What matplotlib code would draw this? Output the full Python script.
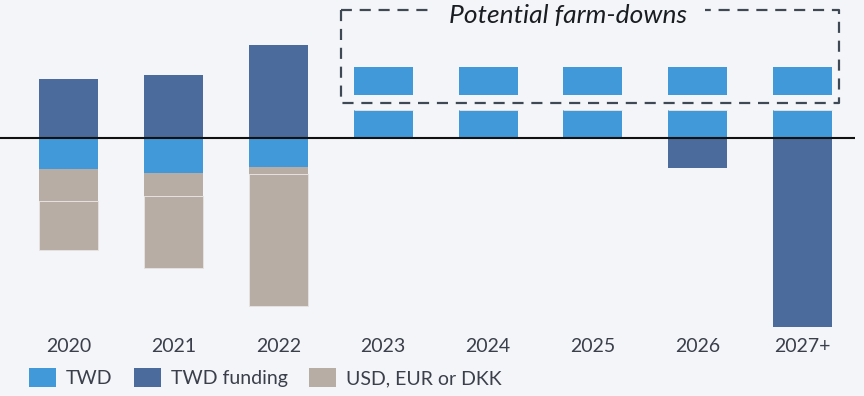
import matplotlib
matplotlib.use("Agg")
import matplotlib.pyplot as plt
import numpy as np

# Cash-flow profile by year (bn), stacked around zero
years = ["2020", "2021", "2022", "2023", "2024", "2025", "2026", "2027+"]
twd = [-3.1, -3.5, -2.9, 2.8, 2.8, 2.8, 2.8, 2.8]
twd_funding = [5.9, 6.3, 9.3, 0.0, 0.0, 0.0, -3.0, -18.9]
fx_part1 = [-3.2, -2.3, -0.7, 0.0, 0.0, 0.0, 0.0, 0.0]
fx_part2 = [-4.9, -7.2, -13.2, 0.0, 0.0, 0.0, 0.0, 0.0]
farm_downs = [0.0, 0.0, 0.0, 2.85, 2.85, 2.85, 2.85, 2.85]

C_TWD = "#4299da"
C_FUND = "#4a6b9b"
C_FX = "#b7ada5"
BG = "#f4f5f8"
TXT = "#3a3f4b"

plt.rcParams["font.family"] = ["Lato", "DejaVu Sans"]

fig = plt.figure(figsize=(8.64, 3.96), dpi=100, facecolor=BG)
ax = fig.add_axes([0.0, 1 - 330 / 396, 855 / 864, 330 / 396])
ax.set_facecolor(BG)

x = np.arange(len(years))
width = 0.5625

# Separate positive / negative accumulators so each series stacks away from zero
pos = np.zeros(len(years))
neg = np.zeros(len(years))
series = [
    (twd, C_TWD, "TWD", "none", 0),
    (twd_funding, C_FUND, "TWD funding", "none", 0),
    (fx_part1, C_FX, "USD, EUR or DKK", "none", 0),
    (fx_part2, C_FX, None, "#e4e1de", 0.7),
]
handles = {}
for vals, color, label, ec, lw in series:
    v = np.array(vals)
    bottom = np.where(v >= 0, pos, neg)
    bars = ax.bar(x, v, width, bottom=bottom, color=color, edgecolor=ec,
                  linewidth=lw, zorder=2)
    if label:
        handles[label] = bars
    pos = pos + np.where(v > 0, v, 0)
    neg = neg + np.where(v < 0, v, 0)

# Potential farm-downs sit above the positive stack with a gap
gap = 1.47
fd = np.array(farm_downs)
mask = fd > 0
ax.bar(x[mask], fd[mask], width, bottom=pos[mask] + gap, color=C_TWD, zorder=2)

# Dashed outline around the farm-down bars
box_l, box_r, box_b, box_t = 2.598, 7.348, 3.53, 12.8
ax.plot([box_l, box_l, box_r, box_r, box_l], [box_t, box_b, box_b, box_t, box_t],
        color="#3e4955", lw=1.6, ls=(0, (5, 3.5)), zorder=3, solid_capstyle="butt")
ax.text(4.76, 11.55, "Potential farm-downs", ha="center", va="baseline",
        fontsize=19, style="italic", color="#1a1d22", zorder=4,
        bbox=dict(facecolor=BG, edgecolor="none", pad=13))

ax.axhline(0, color="#111111", lw=1.5, zorder=3)

ax.set_xlim(-0.653, 7.498)
ax.set_ylim(-19.2, 13.8)
ax.set_xticks(x)
ax.set_xticklabels(years, fontsize=14, color=TXT)
ax.tick_params(axis="x", length=0, pad=6)
ax.set_yticks([])
for s in ax.spines.values():
    s.set_visible(False)

fig.legend([handles["TWD"], handles["TWD funding"], handles["USD, EUR or DKK"]],
           ["TWD", "TWD funding", "USD, EUR or DKK"],
           loc="lower left", bbox_to_anchor=(0.018, -0.012), ncol=3, frameon=False,
           fontsize=14, labelcolor=TXT, handlelength=1.4, handleheight=1.05,
           handletextpad=0.5, columnspacing=1.1, borderpad=0.2)

fig.savefig("out.png", dpi=100, facecolor=BG)
